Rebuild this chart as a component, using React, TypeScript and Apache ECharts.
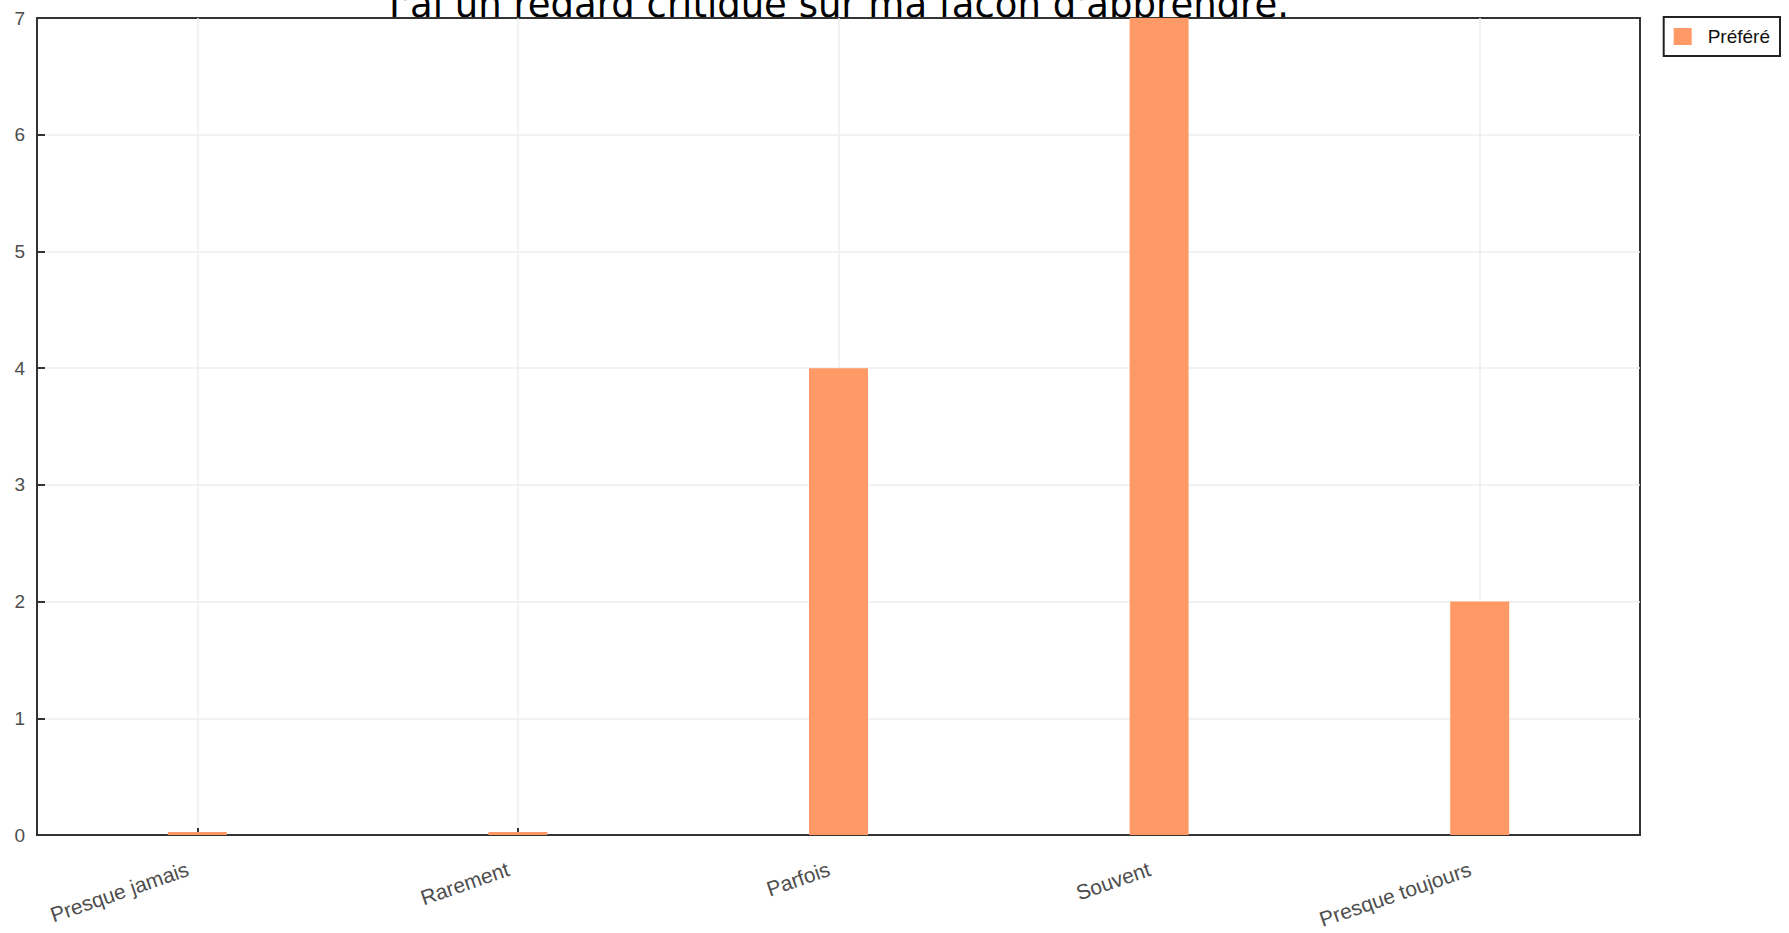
import React, { useEffect, useRef } from "react";
import * as echarts from "echarts";

const titleText = "J'ai un regard critique sur ma façon d'apprendre.";
const categories = ["Presque jamais", "Rarement", "Parfois", "Souvent", "Presque toujours"];
const seriesName = "Préféré";
const values = [0, 0, 4, 7, 2];
const yMin = 0;
const yMax = 7;
const yInterval = 1;

export default function App() {
  const ref = useRef<HTMLDivElement>(null);
  useEffect(() => {
    document.body.style.margin = "0";
    if (!ref.current) return;
    const chart = echarts.init(ref.current, undefined, { renderer: "svg" });
    const axisColor = "#333333";
    const labelColor = "#4d4d4d";
    const gridColor = "#eeeeee";
    chart.setOption({
      animation: false,
      backgroundColor: "#ffffff",
      title: {
        text: titleText,
        left: 834,
        top: -19,
        textAlign: "center",
        z: -1,
        textStyle: {
          fontFamily: "DejaVu Sans",
          fontSize: 37,
          fontWeight: "normal",
          color: "#000000",
        },
      },
      legend: {
        right: 9,
        top: 17,
        orient: "vertical",
        icon: "rect",
        itemWidth: 18,
        itemHeight: 17,
        padding: 10,
        borderColor: "#222222",
        borderWidth: 2,
        backgroundColor: "#ffffff",
        textStyle: {
          fontFamily: "Liberation Sans",
          fontSize: 19,
          color: "#111111",
          padding: [0, 0, 0, 11],
        },
        data: [seriesName],
      },
      grid: {
        left: 37,
        right: 149,
        top: 18,
        bottom: 98,
        show: true,
        backgroundColor: "#ffffff",
        borderColor: axisColor,
        borderWidth: 2,
      },
      xAxis: {
        type: "category",
        data: categories,
        boundaryGap: true,
        axisLine: { show: true, lineStyle: { color: axisColor, width: 2 } },
        axisTick: {
          show: true,
          inside: true,
          length: 7,
          alignWithLabel: true,
          lineStyle: { color: axisColor, width: 2 },
        },
        axisLabel: {
          rotate: 19,
          margin: 30,
          interval: 0,
          fontFamily: "Liberation Sans",
          fontSize: 21,
          color: labelColor,
          padding: [0, 10, 0, 0],
        },
        splitLine: {
          show: true,
          alignWithLabel: true,
          interval: 0,
          lineStyle: { color: gridColor, width: 1.5 },
        },
      },
      yAxis: {
        type: "value",
        min: yMin,
        max: yMax,
        interval: yInterval,
        axisLine: { show: true, lineStyle: { color: axisColor, width: 2 } },
        axisTick: {
          show: true,
          inside: true,
          length: 8,
          lineStyle: { color: axisColor, width: 2 },
        },
        axisLabel: {
          margin: 12,
          fontFamily: "Liberation Sans",
          fontSize: 19,
          color: labelColor,
        },
        splitLine: {
          show: true,
          showMinLine: false,
          showMaxLine: false,
          lineStyle: { color: gridColor, width: 1.5 },
        },
      },
      series: [
        {
          name: seriesName,
          type: "bar",
          data: values,
          barWidth: 59,
          barMinHeight: 3,
          itemStyle: { color: "#ff9966" },
        },
      ],
    });
    return () => chart.dispose();
  }, []);
  return <div ref={ref} style={{ width: 1789, height: 933 }} />;
}
